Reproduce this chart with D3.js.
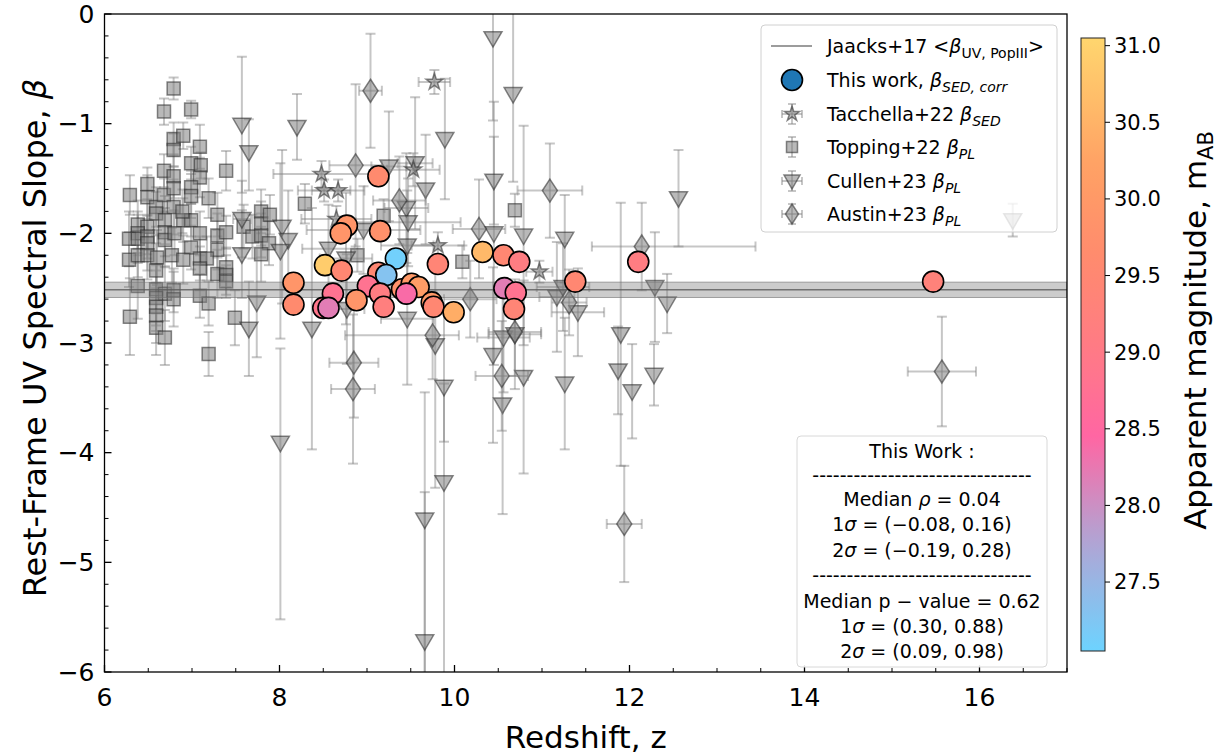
<!DOCTYPE html>
<html><head><meta charset="utf-8">
<script src="https://cdn.jsdelivr.net/npm/d3@7"></script>
<style>
html,body{margin:0;padding:0;background:#fff;}
svg text{font-family:"DejaVu Sans",sans-serif;}
</style></head>
<body>
<svg id="chart" width="1224" height="756"></svg>
<script>
// ---------------- DATA ----------------
// Topping+22 (squares)
const toppingZ = [6.79,6.68,6.99,6.79,6.90,6.79,7.09,6.99,7.10,7.09,6.68,6.79,7.39,6.49,6.29,6.49,6.59,6.68,6.79,6.79,6.99,6.99,7.19,6.59,6.69,6.90,6.99,7.29,6.38,6.49,6.38,6.28,6.38,6.49,6.49,6.69,6.69,6.80,7.09,7.29,7.39,7.29,6.99,6.77,6.90,7.09,7.17,6.28,6.38,6.49,6.60,6.59,7.09,7.29,7.39,7.39,7.39,6.38,6.59,6.69,6.79,6.59,6.79,7.09,7.19,6.29,6.59,6.59,6.59,6.69,7.19,7.49,7.59,7.79,7.79,7.89,7.69,7.79,7.88,7.79,6.89,8.29,9.19,8.89,10.69,10.09];
const toppingBeta = [-0.68,-0.89,-0.87,-1.14,-1.11,-1.24,-1.21,-1.36,-1.38,-1.49,-1.43,-1.48,-1.43,-1.55,-1.65,-1.67,-1.76,-1.65,-1.59,-1.76,-1.58,-1.66,-1.68,-1.82,-1.88,-1.88,-1.88,-1.83,-1.92,-1.94,-2.00,-2.05,-2.05,-2.03,-2.09,-1.99,-2.06,-2.00,-2.00,-2.02,-1.99,-2.15,-2.13,-2.20,-2.24,-2.23,-2.23,-2.24,-2.20,-2.20,-2.22,-2.34,-2.32,-2.37,-2.31,-2.38,-2.44,-2.48,-2.51,-2.55,-2.52,-2.59,-2.60,-2.57,-2.64,-2.76,-2.67,-2.75,-2.86,-2.95,-3.10,-2.77,-1.94,-1.80,-1.91,-1.83,-2.03,-2.02,-2.09,-2.19,-1.80,-1.73,-1.84,-2.20,-1.79,-2.26];
const toppingErr = [0.10,0.12,0.08,0.15,0.12,0.15,0.20,0.15,0.12,0.18,0.15,0.20,0.18,0.15,0.18,0.20,0.18,0.15,0.20,0.25,0.15,0.20,0.18,0.20,0.22,0.20,0.15,0.20,0.22,0.25,0.20,0.25,0.22,0.20,0.25,0.22,0.25,0.20,0.20,0.20,0.15,0.18,0.20,0.25,0.22,0.20,0.20,0.25,0.20,0.22,0.25,0.25,0.20,0.22,0.18,0.18,0.15,0.30,0.22,0.25,0.20,0.25,0.25,0.20,0.20,0.35,0.22,0.25,0.25,0.25,0.20,0.25,0.20,0.20,0.20,0.18,0.20,0.20,0.20,0.25,0.20,0.18,0.15,0.15,0.15,0.15];

// Cullen+23 (down triangles)
const cullenZ = [7.57,7.65,8.20,7.57,8.03,8.10,7.57,8.01,7.74,7.65,8.37,8.56,8.76,9.25,9.55,9.67,9.45,9.47,9.46,9.89,8.96,9.46,8.77,10.44,10.67,10.45,10.79,11.26,10.45,11.17,11.41,10.56,12.56,12.29,12.43,11.90,11.24,16.38,11.87,12.03,12.28,11.26,10.79,10.55,10.44,8.01,9.66,9.66,9.88,9.88,9.78,10.69];
const cullenBeta = [-1.01,-1.26,-1.03,-1.87,-1.94,-2.06,-2.19,-2.16,-2.63,-2.87,-2.87,-2.14,-2.23,-1.39,-1.36,-1.60,-1.77,-1.90,-2.11,-1.14,-1.97,-2.78,-2.69,-0.22,-0.73,-1.52,-2.02,-2.05,-2.00,-2.58,-2.72,-2.95,-1.68,-2.49,-2.64,-2.92,-2.49,-1.88,-3.25,-3.44,-3.29,-3.37,-3.31,-3.56,-3.11,-3.91,-4.61,-5.72,-4.27,-3.40,-3.02,-2.92];
const cullenErrLo = [0.62,0.35,0.30,0.35,0.70,0.45,0.40,0.80,0.50,0.43,1.10,0.40,0.60,0.50,0.60,0.50,0.50,0.40,0.50,0.55,0.40,0.60,0.50,0.75,0.80,0.40,1.00,0.40,1.20,0.50,0.40,0.50,0.44,0.50,0.27,1.20,0.40,0.15,0.40,0.43,0.28,0.60,0.88,1.00,0.80,1.61,1.50,0.50,1.80,0.50,1.30,0.50];
const cullenErrHi = [0.62,0.30,0.30,0.35,0.70,0.45,0.40,0.80,0.50,0.43,1.10,0.40,0.60,0.50,0.60,0.50,0.50,0.40,0.50,0.55,0.40,0.60,0.50,0.75,0.80,0.40,1.00,0.40,1.20,0.50,0.40,0.50,0.44,0.50,0.27,1.20,0.40,0.15,0.40,0.43,0.28,0.60,0.88,1.00,0.80,0.86,1.16,1.36,0.90,0.70,0.80,0.50];
const cullenZErr = [0,0,0,0.10,0,0,0,0,0,0,0,0.30,0.30,0.20,0.20,0,0.25,0.60,0.30,0,0.65,0.30,0.20,0,0,0,0,0,0,0.20,0.30,0.30,0,0,0,0,0.30,0,0,0,0,0,0,0,0,0,0,0,0,0,0,0.30];

// Austin+23 (diamonds)
const austinZ = [9.04,8.87,9.37,11.09,10.28,10.18,10.69,9.75,12.14,11.31,8.85,8.84,10.54,11.94,15.57];
const austinBeta = [-0.70,-1.38,-1.70,-1.61,-1.96,-2.60,-2.90,-2.93,-2.12,-2.63,-3.18,-3.42,-3.30,-4.65,-3.26];
const austinErr = [0.52,0.74,0.40,0.43,0.45,0.35,0.40,0.40,0.40,0.30,0.50,0.68,0.50,0.53,0.50];
const austinZLo = [0.13,0.30,0.30,0.37,0.30,0.30,0.30,1.00,0.57,0.20,0.28,0.25,0.30,0.20,0.39];
const austinZHi = [0.13,0.30,0.30,0.37,0.30,0.30,0.30,0.30,1.30,0.20,0.28,0.25,0.30,0.20,0.39];

// Tacchella+22 (stars)
const tacchellaZ = [8.48,8.51,8.67,9.77,9.53,9.81,10.97,8.65];
const tacchellaBeta = [-1.46,-1.61,-1.61,-0.62,-1.42,-2.11,-2.35,-1.87];
const tacchellaErr = [0.12,0.10,0.10,0.11,0.15,0.12,0.10,0.12];
const tacchellaZErr = [0.55,0.30,0.30,0.18,0.30,0.30,0.15,0.40];

// This work (circles), coloured by apparent magnitude
const thisZ = [9.13,8.77,8.70,9.15,8.52,8.71,9.13,9.33,9.22,9.81,8.16,8.16,8.61,9.01,9.15,8.88,9.19,8.50,8.56,9.40,9.51,9.59,9.45,9.74,9.76,9.99,10.32,10.56,10.74,11.38,10.57,10.70,10.68,12.10,15.47];
const thisBeta = [-1.48,-1.93,-2.00,-1.98,-2.29,-2.34,-2.36,-2.23,-2.38,-2.28,-2.45,-2.65,-2.55,-2.48,-2.55,-2.61,-2.67,-2.68,-2.68,-2.51,-2.46,-2.49,-2.55,-2.63,-2.67,-2.72,-2.17,-2.20,-2.26,-2.44,-2.50,-2.54,-2.69,-2.26,-2.44];
const thisMag = [29.6,29.9,29.9,29.8,30.9,29.5,29.5,27.1,27.3,29.4,29.9,29.6,28.8,28.8,29.1,29.9,29.2,28.9,28.2,29.8,30.0,30.1,28.4,30.0,29.5,30.4,30.6,29.5,29.1,29.5,28.2,28.8,29.4,29.1,29.3];

// Jaacks+17 PopIII mean slope band
const jaacksBand = [-2.585, -2.445];
const jaacksMean = -2.515;

// Axis ticks
const xTicks = [6, 8, 10, 12, 14, 16];
const yTicks = [0, -1, -2, -3, -4, -5, -6];
const cbTicks = [27.5, 28.0, 28.5, 29.0, 29.5, 30.0, 30.5, 31.0];
const magDomain = [27.05, 31.05];

// Stats box text (segments: [text, italic])
const statsLines = [
  [["This Work :", false]],
  [["--------------------------------", false]],
  [["Median ", false], ["ρ", true], [" = 0.04", false]],
  [["1", false], ["σ", true], [" = (−0.08, 0.16)", false]],
  [["2", false], ["σ", true], [" = (−0.19, 0.28)", false]],
  [["--------------------------------", false]],
  [["Median p − value = 0.62", false]],
  [["1", false], ["σ", true], [" = (0.30, 0.88)", false]],
  [["2", false], ["σ", true], [" = (0.09, 0.98)", false]]
];

// ---------------- DRAW ----------------
const svg = d3.select("#chart");
const L = 104.5, R = 1067, T = 14, B = 672;
const x = d3.scaleLinear().domain([6, 17]).range([L, R]);
const y = d3.scaleLinear().domain([-6, 0]).range([B, T]);
const color = d3.scaleLinear()
  .domain([27.05, 27.8, 28.45, 29.0, 29.6, 30.2, 31.05])
  .range(["#6dd3ff", "#b4a2d2", "#ff66a3", "#ff7a86", "#ff8a6e", "#ffa064", "#ffd66e"]);

svg.append("defs").append("clipPath").attr("id", "plotclip")
  .append("rect").attr("x", L).attr("y", T).attr("width", R - L).attr("height", B - T);

const plot = svg.append("g").attr("clip-path", "url(#plotclip)");

const ebColor = "rgba(128,128,128,0.45)";
const mFill = "rgba(128,128,128,0.55)";
const mStroke = "rgba(40,40,40,0.55)";

function errorbars(g, xs, ys, xlo, xhi, ylo, yhi) {
  const cap = 5;
  xs.forEach((xv, i) => {
    const px = x(xv), py = y(ys[i]);
    if (ylo[i] > 0 || yhi[i] > 0) {
      const y1 = y(ys[i] - ylo[i]), y2 = y(ys[i] + yhi[i]);
      g.append("line").attr("x1", px).attr("x2", px).attr("y1", y1).attr("y2", y2)
        .attr("stroke", ebColor).attr("stroke-width", 2);
      [y1, y2].forEach(yy => g.append("line").attr("x1", px - cap).attr("x2", px + cap)
        .attr("y1", yy).attr("y2", yy).attr("stroke", ebColor).attr("stroke-width", 2));
    }
    if (xlo[i] > 0 || xhi[i] > 0) {
      const x1 = x(xv - xlo[i]), x2 = x(xv + xhi[i]);
      g.append("line").attr("x1", x1).attr("x2", x2).attr("y1", py).attr("y2", py)
        .attr("stroke", ebColor).attr("stroke-width", 2);
      [x1, x2].forEach(xx => g.append("line").attr("x1", xx).attr("x2", xx)
        .attr("y1", py - cap).attr("y2", py + cap).attr("stroke", ebColor).attr("stroke-width", 2));
    }
  });
}

const triPath = "M-9,-6.5L9,-6.5L0,9Z";
const diaPath = "M0,-11.5L7.5,0L0,11.5L-7.5,0Z";
const sqPath = "M-6.5,-6.5L6.5,-6.5L6.5,6.5L-6.5,6.5Z";
const starPath = d3.symbol(d3.symbolStar, 85)();

function markers(g, xs, ys, path) {
  g.selectAll(null).data(xs).enter().append("path")
    .attr("d", path)
    .attr("transform", (d, i) => `translate(${x(d)},${y(ys[i])})`)
    .attr("fill", mFill).attr("stroke", mStroke).attr("stroke-width", 1.5);
}

const zeros = n => new Array(n).fill(0);

// Topping
const gTop = plot.append("g");
errorbars(gTop, toppingZ, toppingBeta, zeros(toppingZ.length), zeros(toppingZ.length), toppingErr, toppingErr);
markers(gTop, toppingZ, toppingBeta, sqPath);
// Cullen
const gCul = plot.append("g");
errorbars(gCul, cullenZ, cullenBeta, cullenZErr, cullenZErr, cullenErrLo, cullenErrHi);
markers(gCul, cullenZ, cullenBeta, triPath);
// Austin
const gAus = plot.append("g");
errorbars(gAus, austinZ, austinBeta, austinZLo, austinZHi, austinErr, austinErr);
markers(gAus, austinZ, austinBeta, diaPath);
// Tacchella
const gTac = plot.append("g");
errorbars(gTac, tacchellaZ, tacchellaBeta, tacchellaZErr, tacchellaZErr, tacchellaErr, tacchellaErr);
markers(gTac, tacchellaZ, tacchellaBeta, starPath);

// Jaacks band
plot.append("rect").attr("x", L).attr("width", R - L)
  .attr("y", y(jaacksBand[1])).attr("height", y(jaacksBand[0]) - y(jaacksBand[1]))
  .attr("fill", "rgba(128,128,128,0.4)").attr("stroke", "rgba(110,110,110,0.6)").attr("stroke-width", 1);
plot.append("line").attr("x1", L).attr("x2", R).attr("y1", y(jaacksMean)).attr("y2", y(jaacksMean))
  .attr("stroke", "rgba(90,90,90,0.8)").attr("stroke-width", 1.5);

// This work
plot.selectAll(null).data(thisZ).enter().append("circle")
  .attr("cx", d => x(d)).attr("cy", (d, i) => y(thisBeta[i])).attr("r", 10.5)
  .attr("fill", (d, i) => color(thisMag[i])).attr("stroke", "#000").attr("stroke-width", 1.6);

// ---------------- AXES ----------------
const axG = svg.append("g");
axG.append("rect").attr("x", L).attr("y", T).attr("width", R - L).attr("height", B - T)
  .attr("fill", "none").attr("stroke", "#000").attr("stroke-width", 1.3);
// x ticks (inward)
d3.range(6, 17.001, 0.5).forEach(v => {
  const major = Math.abs(v - Math.round(v)) < 1e-6 && Math.round(v) % 2 === 0;
  axG.append("line").attr("x1", x(v)).attr("x2", x(v)).attr("y1", B).attr("y2", B - (major ? 7 : 4))
    .attr("stroke", "#000").attr("stroke-width", major ? 1.3 : 1);
});
xTicks.forEach(v => axG.append("text").attr("x", x(v)).attr("y", B + 34).attr("text-anchor", "middle")
  .attr("font-size", 25).text(v));
// y ticks (inward)
d3.range(0, 30.5, 1).forEach(k => {
  const v = -k * 0.2;
  const major = k % 5 === 0;
  axG.append("line").attr("x1", L).attr("x2", L + (major ? 7 : 4)).attr("y1", y(v)).attr("y2", y(v))
    .attr("stroke", "#000").attr("stroke-width", major ? 1.3 : 1);
});
yTicks.forEach(v => axG.append("text").attr("x", L - 10).attr("y", y(v)).attr("dy", "0.35em")
  .attr("text-anchor", "end").attr("font-size", 25).text(v === 0 ? "0" : "\u2212" + Math.abs(v)));

// axis labels
axG.append("text").attr("x", (L + R) / 2).attr("y", 748).attr("text-anchor", "middle")
  .attr("font-size", 31).text("Redshift, z");
const yl = axG.append("text").attr("transform", `translate(46,${(T + B) / 2 - 5}) rotate(-90)`)
  .attr("text-anchor", "middle").attr("font-size", 32);
yl.append("tspan").text("Rest-Frame UV Spectral Slope, ");
yl.append("tspan").attr("font-style", "italic").text("β");

// ---------------- COLORBAR ----------------
const cbX = 1081, cbW = 24, cbT = 38, cbB = 651;
const cy = d3.scaleLinear().domain(magDomain).range([cbB, cbT]);
const grad = svg.select("defs").append("linearGradient").attr("id", "cbgrad")
  .attr("x1", 0).attr("x2", 0).attr("y1", 1).attr("y2", 0);
d3.range(0, 1.0001, 0.05).forEach(t => {
  grad.append("stop").attr("offset", t).attr("stop-color", color(magDomain[0] + t * (magDomain[1] - magDomain[0])));
});
svg.append("rect").attr("x", cbX).attr("y", cbT).attr("width", cbW).attr("height", cbB - cbT)
  .attr("fill", "url(#cbgrad)").attr("stroke", "#222").attr("stroke-width", 1);
cbTicks.forEach(v => {
  svg.append("line").attr("x1", cbX + cbW).attr("x2", cbX + cbW + 5).attr("y1", cy(v)).attr("y2", cy(v))
    .attr("stroke", "#000").attr("stroke-width", 1);
  svg.append("text").attr("x", cbX + cbW + 9).attr("y", cy(v)).attr("dy", "0.35em")
    .attr("font-size", 21).text(v.toFixed(1));
});
const cbl = svg.append("text").attr("transform", `translate(1206,${(cbT + cbB) / 2 - 14}) rotate(-90)`)
  .attr("text-anchor", "middle").attr("font-size", 31);
cbl.append("tspan").text("Apparent magnitude, m");
cbl.append("tspan").attr("font-size", 21).attr("dy", 7).text("AB");

// ---------------- LEGEND ----------------
const lg = svg.append("g");
lg.append("rect").attr("x", 761).attr("y", 25).attr("width", 296).attr("height", 207).attr("rx", 4)
  .attr("fill", "rgba(255,255,255,0.8)").attr("stroke", "#d0d0d0").attr("stroke-width", 1);
const lx = 792, tx = 827;
const rows = [46, 80, 114, 147, 181, 214];
lg.append("line").attr("x1", 771).attr("x2", 812).attr("y1", rows[0]).attr("y2", rows[0])
  .attr("stroke", "rgba(90,90,90,0.8)").attr("stroke-width", 1.5);
lg.append("circle").attr("cx", lx).attr("cy", rows[1]).attr("r", 10.5).attr("fill", "#1f77b4")
  .attr("stroke", "#000").attr("stroke-width", 1.6);
function legSym(yy, path, hasX) {
  const cap = 4;
  lg.append("line").attr("x1", lx).attr("x2", lx).attr("y1", yy - 10).attr("y2", yy + 10).attr("stroke", ebColor).attr("stroke-width", 2);
  [yy - 10, yy + 10].forEach(v => lg.append("line").attr("x1", lx - cap).attr("x2", lx + cap).attr("y1", v).attr("y2", v).attr("stroke", ebColor).attr("stroke-width", 2));
  if (hasX) {
    lg.append("line").attr("x1", lx - 10).attr("x2", lx + 10).attr("y1", yy).attr("y2", yy).attr("stroke", ebColor).attr("stroke-width", 2);
    [lx - 10, lx + 10].forEach(v => lg.append("line").attr("x1", v).attr("x2", v).attr("y1", yy - cap).attr("y2", yy + cap).attr("stroke", ebColor).attr("stroke-width", 2));
  }
  lg.append("path").attr("d", path).attr("transform", `translate(${lx},${yy})`)
    .attr("fill", mFill).attr("stroke", mStroke).attr("stroke-width", 1.5);
}
legSym(rows[2], d3.symbol(d3.symbolStar, 70)(), true);
legSym(rows[3], "M-5.5,-5.5L5.5,-5.5L5.5,5.5L-5.5,5.5Z", false);
legSym(rows[4], "M-8,-6L8,-6L0,8Z", true);
legSym(rows[5], "M0,-10L6.5,0L0,10L-6.5,0Z", true);

const fs = 19;
function legText(yy, parts) {
  const t = lg.append("text").attr("x", tx).attr("y", yy).attr("dy", "0.35em").attr("font-size", fs);
  parts.forEach(p => {
    const s = t.append("tspan").text(p.t);
    if (p.it) s.attr("font-style", "italic");
    if (p.sub) s.attr("font-size", 14).attr("dy", 5);
    if (p.up) s.attr("dy", -5);
  });
}
legText(rows[0], [{t: "Jaacks+17 <"}, {t: "β", it: true}, {t: "UV, PopIII", sub: true}, {t: ">", up: true}]);
legText(rows[1], [{t: "This work, "}, {t: "β", it: true}, {t: "SED, corr", sub: true, it: true}]);
legText(rows[2], [{t: "Tacchella+22 "}, {t: "β", it: true}, {t: "SED", sub: true, it: true}]);
legText(rows[3], [{t: "Topping+22 "}, {t: "β", it: true}, {t: "PL", sub: true, it: true}]);
legText(rows[4], [{t: "Cullen+23 "}, {t: "β", it: true}, {t: "PL", sub: true, it: true}]);
legText(rows[5], [{t: "Austin+23 "}, {t: "β", it: true}, {t: "PL", sub: true, it: true}]);

// ---------------- STATS BOX ----------------
const sb = svg.append("g");
sb.append("rect").attr("x", 797).attr("y", 436).attr("width", 250).attr("height", 231).attr("rx", 4)
  .attr("fill", "rgba(255,255,255,0.9)").attr("stroke", "#d8d8d8").attr("stroke-width", 1);
const statY = [451, 475, 499, 524, 550, 575, 601, 626, 651];
statsLines.forEach((segs, i) => {
  const t = sb.append("text").attr("x", 922).attr("y", statY[i]).attr("dy", "0.35em").attr("text-anchor", "middle")
    .attr("font-size", 19);
  segs.forEach(s => { const sp = t.append("tspan").text(s[0]); if (s[1]) sp.attr("font-style", "italic"); });
});
</script>
</body></html>
